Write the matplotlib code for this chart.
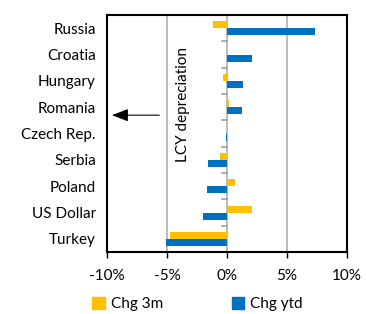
import numpy as np
import matplotlib.pyplot as plt
from matplotlib.patches import Patch

countries = ["Russia", "Croatia", "Hungary", "Romania", "Czech Rep.",
             "Serbia", "Poland", "US Dollar", "Turkey"]
chg_3m = [-1.2, 0.05, -0.35, 0.15, 0.0, -0.55, 0.7, 2.1, -4.75]
chg_ytd = [7.3, 2.1, 1.3, 1.25, -0.05, -1.6, -1.65, -2.0, -5.1]

yellow = '#FFC000'
blue = '#0070C0'

plt.rcParams['font.family'] = ['Lato', 'DejaVu Sans']
plt.rcParams['font.size'] = 11

fig = plt.figure(figsize=(3.66, 3.14), dpi=100)
ax = fig.add_axes([0.292, 0.197, 0.656, 0.755])

y = np.arange(len(countries))
h = 0.27
ax.barh(y - h / 2, chg_3m, height=h, color=yellow, zorder=3)
ax.barh(y + h / 2, chg_ytd, height=h, color=blue, zorder=3)

ax.set_ylim(len(countries) - 0.5, -0.5)
ax.set_xlim(-10, 10)
ax.set_xticks([-10, -5, 0, 5, 10])
ax.set_xticklabels(["-10%", "-5%", "0%", "5%", "10%"])
ax.set_yticks(y)
ax.set_yticklabels(countries)
ax.tick_params(axis='y', length=0, pad=8)
ax.tick_params(axis='x', length=4, width=1, pad=8)

for v in [-5, 0, 5]:
    ax.axvline(v, color='#b0b0b0', lw=1.2, zorder=1)
# small category ticks on the zero line
for b in np.arange(0.5, len(countries) - 0.5, 1):
    ax.plot([-0.4, 0], [b, b], color='#a0a0a0', lw=1.2, zorder=2)

for s in ax.spines.values():
    s.set_linewidth(1.5)
    s.set_color('black')

ax.text(-3.7, 2.9, "LCY depreciation", rotation=90, ha='center', va='center', fontsize=11)
ax.annotate("", xy=(-9.8, 3.3), xytext=(-5.4, 3.3),
            arrowprops=dict(arrowstyle='-|>,head_length=0.9,head_width=0.35',
                            color='black', lw=0.8))

handles = [Patch(color=yellow, label="Chg 3m"), Patch(color=blue, label="Chg ytd")]
fig.legend(handles=handles, loc='lower center', bbox_to_anchor=(0.54, -0.035), ncol=2,
           frameon=False, handlelength=0.8, handleheight=0.8, handletextpad=0.4,
           columnspacing=4.5)

fig.savefig("out.png", dpi=100)
